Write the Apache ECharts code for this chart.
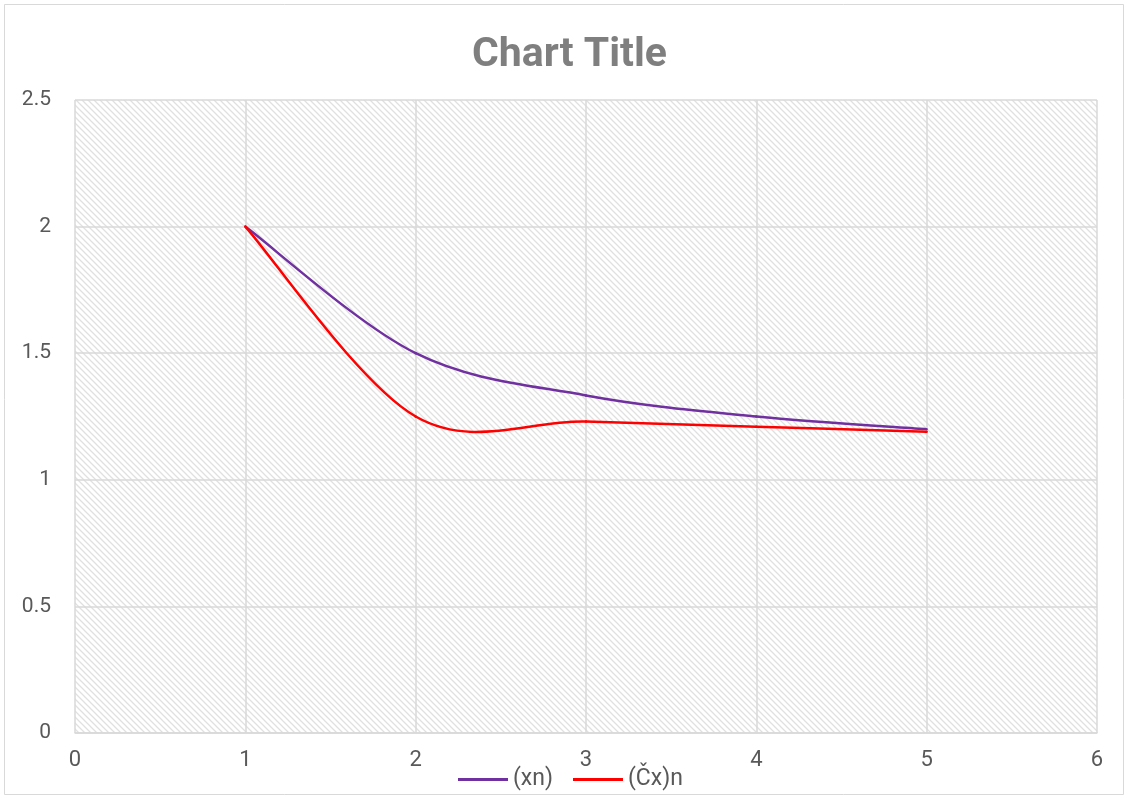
<!DOCTYPE html>
<html><head><meta charset="utf-8">
<script src="https://cdn.jsdelivr.net/npm/echarts@6/dist/echarts.min.js"></script>
<style>html,body{margin:0;padding:0;background:#fff}#c{width:1128px;height:797px}</style>
</head><body><div id="c"></div>
<script>
const xValues = [1, 2, 3, 4, 5];
const seriesXn = [2, 1.5, 1.3333, 1.25, 1.2];
const seriesCxn = [2, 1.25, 1.23, 1.21, 1.19];
const seriesNames = ['(xn)', '(Čx)n'];
const seriesColors = ['#7030a0', '#ff0000'];
const xTicks = [0, 1, 2, 3, 4, 5, 6];
const yTicks = [0, 0.5, 1, 1.5, 2, 2.5];

const pc = document.createElement('canvas');
pc.width = 6; pc.height = 6;
const g = pc.getContext('2d');
g.fillStyle = '#ffffff'; g.fillRect(0,0,6,6);
g.strokeStyle = '#e0e0e0'; g.lineWidth = 1.3;
g.beginPath();
g.moveTo(-2,-2); g.lineTo(8,8);
g.moveTo(-8,-2); g.lineTo(2,8);
g.moveTo(4,-2); g.lineTo(14,8);
g.stroke();

// Smooth (Excel-like) curve segments drawn through the axis coordinates
function makeSmooth(ys, color) {
  return function (params, api) {
    const i = params.dataIndex;
    const n = xValues.length;
    if (i >= n - 1) return null;
    const P = (j) => api.coord([xValues[Math.max(0, Math.min(n - 1, j))], ys[Math.max(0, Math.min(n - 1, j))]]);
    const p0 = P(i - 1), p1 = P(i), p2 = P(i + 1), p3 = P(i + 2);
    const c1 = [p1[0] + (p2[0] - p0[0]) / 6, p1[1] + (p2[1] - p0[1]) / 6];
    const c2 = [p2[0] - (p3[0] - p1[0]) / 6, p2[1] - (p3[1] - p1[1]) / 6];
    return {
      type: 'bezierCurve',
      shape: { x1: p1[0], y1: p1[1], x2: p2[0], y2: p2[1], cpx1: c1[0], cpy1: c1[1], cpx2: c2[0], cpy2: c2[1] },
      style: { stroke: color, lineWidth: 2.5, fill: null, lineCap: 'round' },
      silent: true
    };
  };
}

const chart = echarts.init(document.getElementById('c'));
const font = 'Roboto';
chart.setOption({
  backgroundColor: '#fff',
  animation: false,
  title: { text: 'Chart Title', left: 472, top: 35, padding: 0,
    textStyle: { fontFamily: font, fontSize: 41, fontWeight: 'bold', color: '#7f7f7f' } },
  graphic: [{ type: 'rect', shape: { x: 4.5, y: 4.5, width: 1119, height: 790 },
    style: { fill: 'none', stroke: '#d9d9d9', lineWidth: 1 }, silent: true }],
  legend: { bottom: 6, left: 458, padding: 0, itemWidth: 50, itemHeight: 3, itemGap: 20,
    icon: 'rect',
    textStyle: { fontFamily: font, fontSize: 23, color: '#595959' },
    data: seriesNames },
  grid: { left: 75, right: 31, top: 100, bottom: 64, show: true,
    backgroundColor: { image: pc, repeat: 'repeat' }, borderWidth: 0 },
  xAxis: { type: 'value', min: xTicks[0], max: xTicks[xTicks.length-1], interval: 1,
    axisLine: { show: true, lineStyle: { color: '#d9d9d9', width: 1.5 } },
    axisTick: { show: false },
    axisLabel: { fontFamily: font, fontSize: 22, color: '#595959', margin: 16 },
    splitLine: { show: true, lineStyle: { color: '#d9d9d9', width: 1.5 } } },
  yAxis: { type: 'value', min: yTicks[0], max: yTicks[yTicks.length-1], interval: 0.5,
    axisLine: { show: false }, axisTick: { show: false },
    axisLabel: { fontFamily: font, fontSize: 21, color: '#595959', margin: 24 },
    splitLine: { show: true, lineStyle: { color: '#d9d9d9', width: 1.5 } } },
  series: [
    { name: seriesNames[0], type: 'custom', renderItem: makeSmooth(seriesXn, seriesColors[0]),
      data: xValues.map((x,i)=>[x, seriesXn[i]]), encode: { x: 0, y: 1 },
      itemStyle: { color: seriesColors[0] }, z: 3 },
    { name: seriesNames[1], type: 'custom', renderItem: makeSmooth(seriesCxn, seriesColors[1]),
      data: xValues.map((x,i)=>[x, seriesCxn[i]]), encode: { x: 0, y: 1 },
      itemStyle: { color: seriesColors[1] }, z: 4 }
  ]
});
</script></body></html>
